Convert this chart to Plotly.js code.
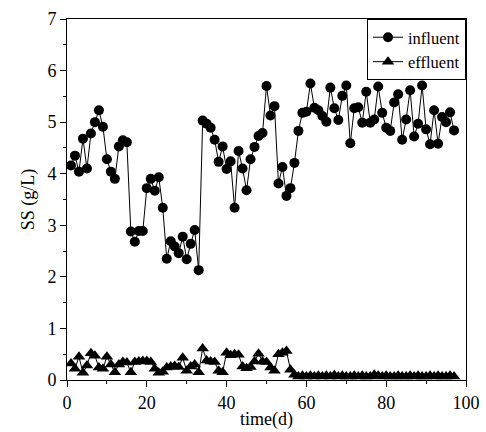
<!DOCTYPE html>
<html>
<head>
<meta charset="utf-8">
<script src="https://cdn.plot.ly/plotly-3.0.1.min.js"></script>
<style>html,body{margin:0;padding:0;background:#fff;}#chart{width:486px;height:432px;}</style>
</head>
<body>
<div id="chart"></div>
<script>
var days = [1,2,3,4,5,6,7,8,9,10,11,12,13,14,15,16,17,18,19,20,21,22,23,24,25,26,27,28,29,30,31,32,33,34,35,36,37,38,39,40,41,42,43,44,45,46,47,48,49,50,51,52,53,54,55,56,57,58,59,60,61,62,63,64,65,66,67,68,69,70,71,72,73,74,75,76,77,78,79,80,81,82,83,84,85,86,87,88,89,90,91,92,93,94,95,96,97];
var influent = [4.16,4.35,4.04,4.68,4.10,4.78,5.00,5.23,4.91,4.28,4.04,3.90,4.53,4.65,4.61,2.88,2.68,2.89,2.89,3.72,3.90,3.67,3.93,3.34,2.35,2.69,2.59,2.46,2.78,2.34,2.64,2.91,2.13,5.03,4.97,4.89,4.66,4.23,4.53,4.09,4.24,3.34,4.44,4.10,3.68,4.28,4.52,4.73,4.79,5.70,5.13,5.31,3.81,4.13,3.57,3.72,4.21,4.83,5.18,5.20,5.75,5.28,5.23,5.12,5.01,5.67,5.27,5.04,5.51,5.71,4.59,5.27,5.29,4.99,5.59,4.99,5.05,5.69,5.18,4.89,4.83,5.38,5.54,4.66,5.05,5.62,4.72,4.97,5.71,4.86,4.57,5.23,4.58,5.10,5.00,5.19,4.84];
var effluent = [0.32,0.22,0.45,0.14,0.28,0.52,0.47,0.24,0.22,0.45,0.30,0.15,0.30,0.35,0.34,0.15,0.35,0.36,0.37,0.37,0.35,0.22,0.14,0.16,0.24,0.26,0.27,0.25,0.43,0.18,0.26,0.30,0.15,0.61,0.38,0.36,0.35,0.18,0.15,0.53,0.48,0.50,0.49,0.26,0.23,0.25,0.36,0.51,0.36,0.35,0.24,0.18,0.50,0.53,0.56,0.20,0.10,0.07,0.08,0.07,0.08,0.07,0.08,0.07,0.08,0.07,0.09,0.07,0.08,0.07,0.07,0.08,0.07,0.08,0.07,0.07,0.10,0.08,0.07,0.08,0.07,0.07,0.08,0.07,0.07,0.08,0.07,0.08,0.07,0.07,0.08,0.07,0.08,0.07,0.07,0.08,0.07];
var names = ['influent','effluent'];
var xTitle = 'time(d)';
var yTitle = 'SS (g/L)';

var font = 'Liberation Serif, Times New Roman, serif';
var traces = [
  {x: days, y: influent, name: names[0], type: 'scatter', mode: 'lines+markers',
   line: {color: '#000', width: 1}, marker: {symbol: 'circle', size: 10, color: '#000'}},
  {x: days, y: effluent, name: names[1], type: 'scatter', mode: 'lines+markers',
   line: {color: '#000', width: 1}, marker: {symbol: 'triangle-up', size: 11, color: '#000'}}
];
var layout = {
  width: 486, height: 432,
  margin: {l: 67, r: 20, t: 19, b: 52},
  paper_bgcolor: '#fff', plot_bgcolor: '#fff',
  font: {family: font, size: 18, color: '#000'},
  showlegend: true,
  legend: {x: 1, xanchor: 'right', y: 1, yanchor: 'top', bgcolor: '#fff',
           bordercolor: '#000', borderwidth: 1, font: {family: font, size: 16.5, color: '#000'},
           tracegroupgap: 0, itemwidth: 30},
  xaxis: {range: [0, 100], dtick: 20, tick0: 0, ticks: 'outside', ticklen: 6, tickwidth: 1,
          tickcolor: '#000', showline: true, linecolor: '#000', linewidth: 1, mirror: true,
          showgrid: false, zeroline: false,
          minor: {dtick: 10, ticks: 'outside', ticklen: 3, tickcolor: '#000', showgrid: false},
          title: {text: xTitle, font: {family: font, size: 18, color: '#000'}, standoff: 0},
          tickfont: {family: font, size: 18, color: '#000'}},
  yaxis: {range: [0, 7], dtick: 1, tick0: 0, ticks: 'outside', ticklen: 6, tickwidth: 1,
          tickcolor: '#000', showline: true, linecolor: '#000', linewidth: 1, mirror: true,
          showgrid: false, zeroline: false,
          minor: {dtick: 0.5, ticks: 'outside', ticklen: 3, tickcolor: '#000', showgrid: false},
          title: {text: yTitle, font: {family: font, size: 18, color: '#000'}, standoff: 8},
          tickfont: {family: font, size: 18, color: '#000'}}
};
Plotly.newPlot('chart', traces, layout, {displayModeBar: false, staticPlot: true});
</script>
</body>
</html>
